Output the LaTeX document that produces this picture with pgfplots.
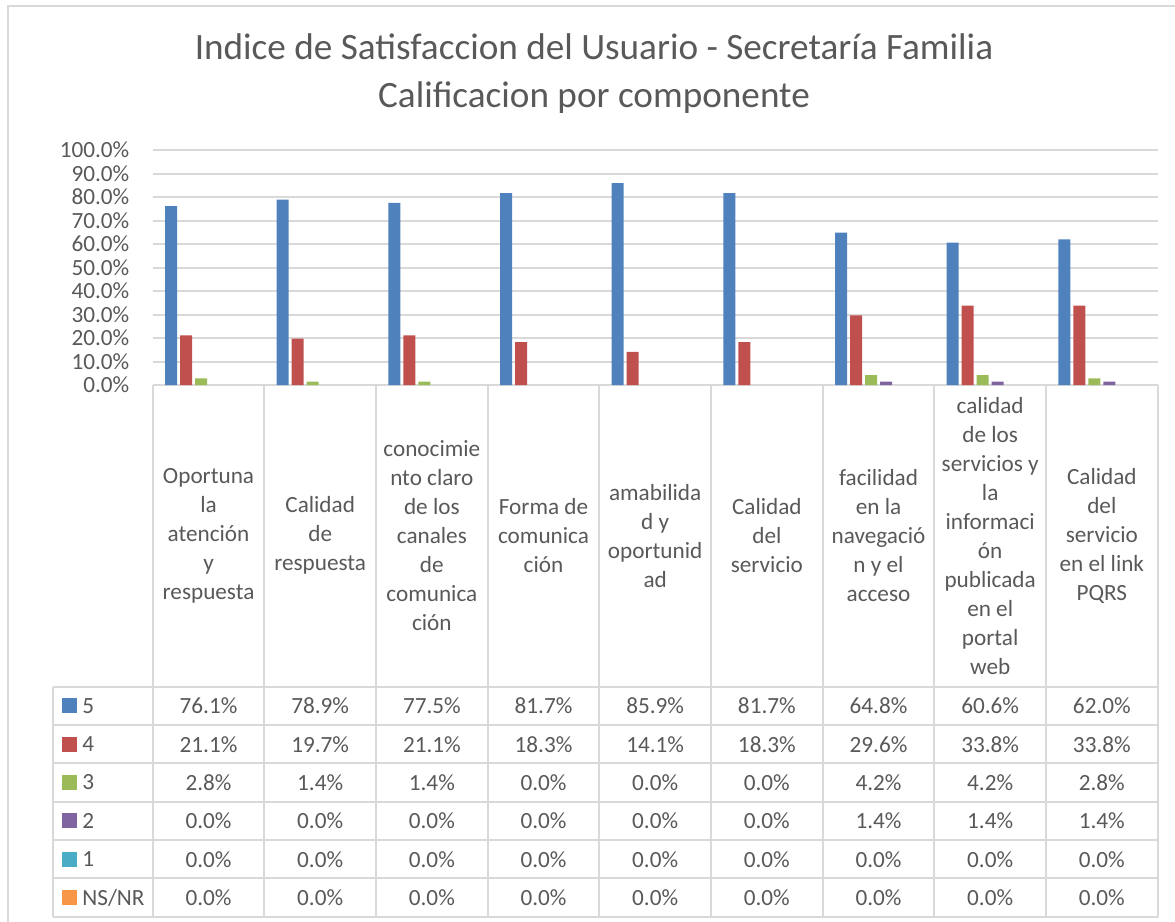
\documentclass[border=0pt]{standalone}
\usepackage{fontspec}
\setmainfont{Carlito}
\usepackage{pgfplots}
\usepackage{pgfplotstable}
\pgfplotsset{compat=1.18}
\definecolor{cA}{HTML}{4F81BD}
\definecolor{cB}{HTML}{C0504D}
\definecolor{cC}{HTML}{9BBB59}
\definecolor{cD}{HTML}{8064A2}
\definecolor{cE}{HTML}{4BACC6}
\definecolor{cF}{HTML}{F79646}
\definecolor{txt}{HTML}{595959}
\definecolor{grd}{HTML}{D9D9D9}

\pgfplotstableread{
idx s5 s4 s3 s2 s1 s0
0 76.1 21.1 2.8 0.0 0.0 0.0
1 78.9 19.7 1.4 0.0 0.0 0.0
2 77.5 21.1 1.4 0.0 0.0 0.0
3 81.7 18.3 0.0 0.0 0.0 0.0
4 85.9 14.1 0.0 0.0 0.0 0.0
5 81.7 18.3 0.0 0.0 0.0 0.0
6 64.8 29.6 4.2 1.4 0.0 0.0
7 60.6 33.8 4.2 1.4 0.0 0.0
8 62.0 33.8 2.8 1.4 0.0 0.0
}\data

\newcommand{\tfont}{\fontsize{11.6}{14.5}\selectfont}

\begin{document}
\begin{tikzpicture}
\begin{scope}[x=0.5pt,y=-0.5pt]
\useasboundingbox (0,0) rectangle (1175,922);
\draw[grd, line width=1pt] (8,922) -- (8,6) -- (1175,6);
\node[text=txt, font=\fontsize{18.6}{24}\selectfont, align=center] at (594,74)
  {Indice de Satisfaccion del Usuario - Secretaría Familia\\Calificacion por componente};
\foreach \x in {0,...,9} \draw[grd,line width=1pt] ({152.7+111.67*\x},385) -- ({152.7+111.67*\x},916.7);
\draw[grd,line width=1pt] (53.3,686.7) -- (53.3,916.7);
\foreach \r in {0,...,6} \draw[grd,line width=1pt] (53.3,{686.7+38.33*\r}) -- (1157.7,{686.7+38.33*\r});
\draw[grd,line width=1pt] (152.7,385) -- (1157.7,385);
\foreach \lab [count=\r from 0] in {5,4,3,2,1,NS/NR}
  \node[anchor=west, inner sep=0pt, text=txt, font=\tfont] at (82,{686.7+38.33*(\r+0.5)}) {\lab};
\end{scope}

\begin{axis}[at={(76.35pt,-192.5pt)}, anchor=south west, scale only axis,
  width=502.5pt, height=117.5pt,
  xmin=-0.5, xmax=8.5, ymin=0, ymax=100, clip=false,
  axis line style={draw=none}, major tick length=0pt,
  ymajorgrids, grid style={grd, line width=1pt},
  ytick={0,10,...,100},
  /pgf/number format/assume math mode=true,
  yticklabel={\pgfmathprintnumber[fixed,fixed zerofill,precision=1]{\tick}\%},
  yticklabel style={anchor=east, inner sep=0pt, xshift=-11.5pt, font=\tfont, text=txt},
  xtick={0,...,8},
  xticklabels={{Oportuna\\la\\atención\\y\\respuesta},
    {Calidad\\de\\respuesta},
    {conocimie\\nto claro\\de los\\canales\\de\\comunica\\ción},
    {Forma de\\comunica\\ción},
    {amabilida\\d y\\oportunid\\ad},
    {Calidad\\del\\servicio},
    {facilidad\\en la\\navegació\\n y el\\acceso},
    {calidad\\de los\\servicios y\\la\\informaci\\ón\\publicada\\en el\\portal\\web},
    {Calidad\\del\\servicio\\en el link\\PQRS}},
  xticklabel style={align=center, anchor=center, yshift=-75.4pt, inner sep=0pt, font=\tfont, text=txt},
  ybar=1.5pt, bar width=6pt,
  y filter/.expression={y==0 ? nan : y}]
\addplot[fill=cA, draw=none] table[x=idx,y=s5]{\data};
\addplot[fill=cB, draw=none] table[x=idx,y=s4]{\data};
\addplot[fill=cC, draw=none] table[x=idx,y=s3]{\data};
\addplot[fill=cD, draw=none] table[x=idx,y=s2]{\data};
\addplot[fill=cE, draw=none] table[x=idx,y=s1]{\data};
\addplot[fill=cF, draw=none] table[x=idx,y=s0]{\data};
\end{axis}

\begin{axis}[at={(76.35pt,-458.35pt)}, anchor=south west, scale only axis,
  width=502.5pt, height=115pt,
  xmin=-0.5, xmax=8.5, ymin=-6, ymax=0, hide axis, clip=false,
  /pgf/number format/assume math mode=true,
  vals/.style={draw=none, mark=none, point meta=explicit,
    nodes near coords={\pgfmathprintnumber[fixed,fixed zerofill,precision=1]{\pgfplotspointmeta}\%},
    nodes near coords align=center,
    every node near coord/.append style={font=\tfont, text=txt, anchor=center, inner sep=0pt}},
  key/.style={only marks, mark=square*, mark size=3.5pt, color=#1, fill=#1}]
\addplot[vals] table[x=idx, y expr=-0.5, meta=s5]{\data};
\addplot[vals] table[x=idx, y expr=-1.5, meta=s4]{\data};
\addplot[vals] table[x=idx, y expr=-2.5, meta=s3]{\data};
\addplot[vals] table[x=idx, y expr=-3.5, meta=s2]{\data};
\addplot[vals] table[x=idx, y expr=-4.5, meta=s1]{\data};
\addplot[vals] table[x=idx, y expr=-5.5, meta=s0]{\data};
\addplot[key=cA] coordinates {(-1.2495,-0.5)};
\addplot[key=cB] coordinates {(-1.2495,-1.5)};
\addplot[key=cC] coordinates {(-1.2495,-2.5)};
\addplot[key=cD] coordinates {(-1.2495,-3.5)};
\addplot[key=cE] coordinates {(-1.2495,-4.5)};
\addplot[key=cF] coordinates {(-1.2495,-5.5)};
\end{axis}
\end{tikzpicture}
\end{document}
